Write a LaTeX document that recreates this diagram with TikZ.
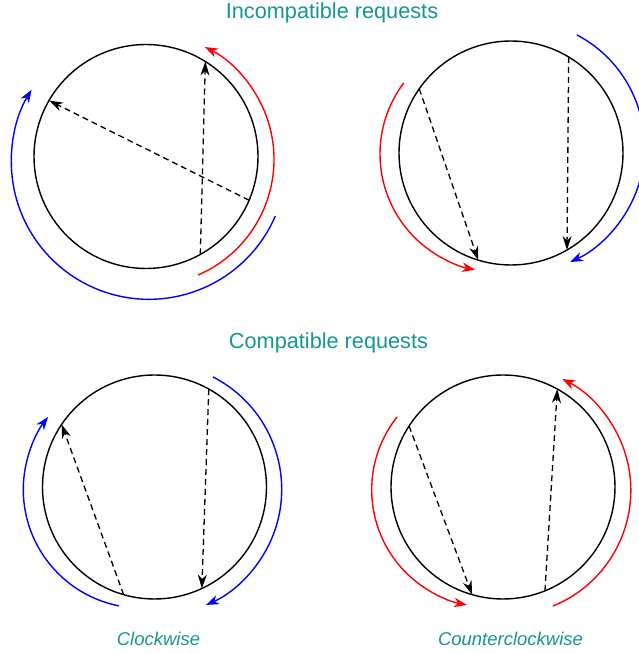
\documentclass[tikz,border=0pt]{standalone}
\usepackage{fontspec}
\setmainfont{Liberation Sans}
\usetikzlibrary{arrows.meta}
\definecolor{tealtext}{RGB}{20,150,145}
\tikzset{
  x=1pt, y=1pt,
  disk/.style={circle, draw=black, line width=1.4pt, minimum size=224pt, inner sep=0pt, outer sep=0pt},
  req/.style={dash pattern=on 6pt off 4pt, line width=1.3pt, -{Stealth[length=14pt,width=9pt,inset=4.5pt]}},
  sweep/.style={line width=1.4pt, -{Stealth[length=13pt,width=9.5pt,inset=4pt]}},
  title/.style={text=tealtext, font=\fontsize{21.7}{24}\selectfont, anchor=base},
  caption/.style={text=tealtext, font=\fontsize{18.5}{22}\selectfont\itshape, anchor=base}
}
\begin{document}
\begin{tikzpicture}
\useasboundingbox (0,0) rectangle (639,654);

% titles
\node[title] (t1) at (332,635.7) {Incompatible requests};
\node[title] (t2) at (328.5,305.3) {Compatible requests};
\node[caption] (c1) at (158.5,9) {Clockwise};
\node[caption] (c2) at (510.5,9) {Counterclockwise};

% disks
\node[disk] (A) at (146,497.5) {};
\node[disk] (B) at (511,501) {};
\node[disk] (C) at (154.5,167) {};
\node[disk] (D) at (503,167) {};

% requests
\draw[req] (A.-23) -- (A.150);
\draw[req] (A.-61) -- (A.58);
\draw[req] (B.145) -- (B.-107);
\draw[req] (B.59) -- (B.-60);
\draw[req] (C.-106) -- (C.146);
\draw[req] (C.61) -- (C.-65);
\draw[req] (D.147) -- (D.-106);
\draw[req] (D.-68) -- (D.61);

% sweeps: top left
\draw[sweep, red] ([shift={(-66.6:126)}]148,494.6) arc[start angle=-66.6, end angle=63.1, radius=126];
\draw[sweep, blue] ([shift={(-23.3:137.6)}]148.9,492.3) arc[start angle=-23.3, end angle=-211.5, radius=137.6];
% top right
\draw[sweep, red] ([shift={(142.9:118)}]498,500) arc[start angle=142.9, end angle=258.8, radius=118];
\draw[sweep, blue] ([shift={(62.3:126.4)}]518.1,507.2) arc[start angle=62.3, end angle=-65.7, radius=126.4];
% bottom left
\draw[sweep, blue] ([shift={(258.9:118.6)}]141.9,164.5) arc[start angle=258.9, end angle=142.3, radius=118.6];
\draw[sweep, blue] ([shift={(62.9:126.2)}]155.5,164.7) arc[start angle=62.9, end angle=-66.4, radius=126.2];
% bottom right
\draw[sweep, red] ([shift={(141.6:117.2)}]488.9,164.2) arc[start angle=141.6, end angle=259.2, radius=117.2];
\draw[sweep, red] ([shift={(-67.9:124.8)}]506,163.6) arc[start angle=-67.9, end angle=63.2, radius=124.8];
\end{tikzpicture}
\end{document}
